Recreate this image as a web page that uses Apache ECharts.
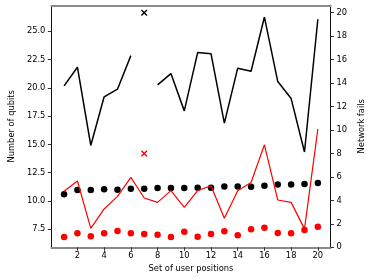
<!DOCTYPE html>
<html>
<head>
<meta charset="utf-8">
<script src="https://cdn.jsdelivr.net/npm/echarts@6/dist/echarts.min.js"></script>
<style>
html,body{margin:0;padding:0;background:#fff;}
#chart{width:374px;height:279px;}
</style>
</head>
<body>
<div id="chart"></div>
<script>
// Data
var positions = [1,2,3,4,5,6,7,8,9,10,11,12,13,14,15,16,17,18,19,20];
// Network fails (right axis) - lines
var blackFails = [13.76,15.35,8.68,12.83,13.48,16.34,null,13.85,14.81,11.63,16.6,16.51,10.59,15.27,15.01,19.63,14.13,12.68,8.12,19.44];
var redFails = [4.77,5.65,1.62,3.27,4.34,5.96,4.2,3.83,4.83,3.4,4.83,5.25,2.47,4.83,5.53,8.74,4.03,3.83,1.57,10.08];
// Number of qubits (left axis) - dots
var blackQubits = [10.59,10.97,10.97,11.03,11.0,11.08,11.08,11.15,11.15,11.15,11.17,11.17,11.29,11.29,11.26,11.35,11.47,11.47,11.5,11.59];
var redQubits = [6.82,7.15,6.88,7.15,7.35,7.15,7.09,7.03,6.82,7.29,6.85,7.09,7.32,6.97,7.5,7.64,7.17,7.15,7.44,7.73];
// Outlier crosses at position 7 (right axis)
var blackCross = [[7, 20.0]];
var redCross = [[7, 8.0]];
var xTicks = [2,4,6,8,10,12,14,16,18,20];
var leftTicks = [7.5,10,12.5,15,17.5,20,22.5,25];
var rightTicks = [0,2,4,6,8,10,12,14,16,18,20];

function pairs(xs, ys){ return xs.map(function(x,i){ return [x, ys[i]]; }); }

var FONT = 'DejaVu Sans';
var FS = 8.3;
var crossPath = 'path://M0,0L1.6,0L5,3.4L8.4,0L10,0L10,1.6L6.6,5L10,8.4L10,10L8.4,10L5,6.6L1.6,10L0,10L0,8.4L3.4,5L0,1.6Z';

var chart = echarts.init(document.getElementById('chart'), null, {renderer:'canvas'});
chart.setOption({
  animation:false,
  backgroundColor:'#fff',
  textStyle:{fontFamily:FONT},
  grid:{left:41.3, right:33, top:5.3, bottom:31.7, containLabel:false},
  xAxis:[{
    type:'value', min:0.05, max:20.95,
    name:'Set of user positions', nameLocation:'middle', nameGap:16,
    nameTextStyle:{fontFamily:FONT, fontSize:FS, color:'#000', verticalAlign:'top'},
    axisLine:{show:true, onZero:false, lineStyle:{color:'#8a8a8a', width:2}},
    axisTick:{show:true, length:3.5, inside:false, customValues:xTicks, lineStyle:{color:'#333', width:1}},
    axisLabel:{customValues:xTicks, fontFamily:FONT, fontSize:FS, color:'#000', margin:5},
    splitLine:{show:false}
  },{
    type:'value', min:0.05, max:20.95, position:'top',
    axisLine:{show:true, onZero:false, lineStyle:{color:'#8a8a8a', width:2}},
    axisTick:{show:false}, axisLabel:{show:false}, splitLine:{show:false}
  }],
  yAxis:[{
    type:'value', min:5.91, max:27.3, position:'left',
    name:'Number of qubits', nameLocation:'middle', nameGap:28,
    nameTextStyle:{fontFamily:FONT, fontSize:FS, color:'#000'},
    axisLine:{show:true, onZero:false, lineStyle:{color:'#111', width:1}},
    axisTick:{show:true, length:3.5, customValues:leftTicks, lineStyle:{color:'#333'}},
    axisLabel:{customValues:leftTicks, fontFamily:FONT, fontSize:FS, color:'#000', margin:6,
      formatter:function(v){ return Number(v).toFixed(1); }},
    splitLine:{show:false}
  },{
    type:'value', min:0, max:20.63, position:'right',
    name:'Network fails', nameLocation:'middle', nameGap:23,
    nameTextStyle:{fontFamily:FONT, fontSize:FS, color:'#000'},
    axisLine:{show:true, onZero:false, lineStyle:{color:'#111', width:1}},
    axisTick:{show:true, length:3.5, customValues:rightTicks, lineStyle:{color:'#333'}},
    axisLabel:{customValues:rightTicks, fontFamily:FONT, fontSize:FS, color:'#000', margin:6},
    splitLine:{show:false}
  }],
  series:[
    {type:'line', yAxisIndex:1, data:pairs(positions, blackFails), showSymbol:false, symbol:'none', connectNulls:false,
      lineStyle:{color:'#000', width:1.5}},
    {type:'line', yAxisIndex:1, data:pairs(positions, redFails), showSymbol:false, symbol:'none',
      lineStyle:{color:'#ff0000', width:1.2}},
    {type:'scatter', yAxisIndex:0, data:pairs(positions, blackQubits), symbol:'circle', symbolSize:6.5,
      itemStyle:{color:'#000', opacity:1}},
    {type:'scatter', yAxisIndex:0, data:pairs(positions, redQubits), symbol:'circle', symbolSize:6.5,
      itemStyle:{color:'#ff0000', opacity:1}},
    {type:'scatter', yAxisIndex:1, data:blackCross, symbol:crossPath, symbolSize:6, itemStyle:{color:'#000', opacity:1}},
    {type:'scatter', yAxisIndex:1, data:redCross, symbol:crossPath, symbolSize:6, itemStyle:{color:'#ff0000', opacity:1}}
  ]
});
</script>
</body>
</html>
